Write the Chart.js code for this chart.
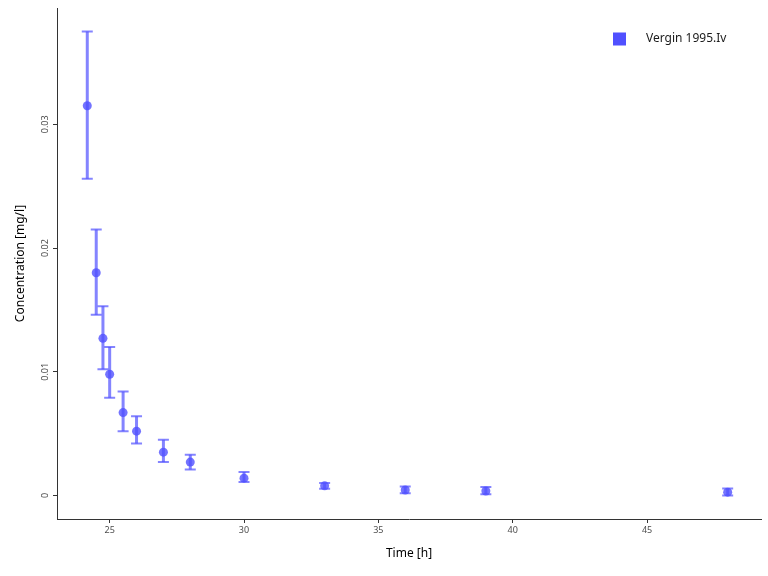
<!DOCTYPE html>
<html>
<head>
<meta charset="utf-8">
<title>Vergin 1995.Iv</title>
<script src="https://cdn.jsdelivr.net/npm/chart.js@4.4.1/dist/chart.umd.min.js"></script>
<style>
  html, body { margin: 0; padding: 0; background: #fff; }
  #wrap { width: 768px; height: 576px; }
</style>
</head>
<body>
<div id="wrap"><canvas id="chart" width="768" height="576"></canvas></div>
<script>
// values
const seriesName = "Vergin 1995.Iv";
const timeH = [24.1667, 24.5, 24.75, 25, 25.5, 26, 27, 28, 30, 33, 36, 39, 48];
const concMean = [0.0315, 0.0180, 0.0127, 0.0098, 0.0067, 0.0052, 0.0035, 0.0027, 0.0014, 0.00078, 0.00044, 0.00036, 0.00027];
const concLow = [0.0256, 0.0146, 0.0102, 0.0079, 0.0052, 0.0042, 0.0027, 0.0021, 0.0011, 0.00054, 0.00019, 0.00011, 0.0];
const concHigh = [0.0375, 0.0215, 0.0153, 0.0120, 0.0084, 0.0064, 0.0045, 0.0033, 0.0019, 0.0010, 0.00073, 0.00068, 0.00056];
const xTicks = [25, 30, 35, 40, 45];
const yTicks = [0, 0.01, 0.02, 0.03];

const FONT = "'Noto Sans', 'Open Sans', sans-serif";
const pointColor = "rgba(80, 80, 255, 0.8)";
const barColor = "rgba(80, 80, 255, 0.7)";

// error bars, drawn under the points
const errorBars = {
  id: "errorBars",
  beforeDatasetsDraw(chart) {
    const { ctx, scales: { x, y } } = chart;
    ctx.save();
    ctx.strokeStyle = barColor;
    timeH.forEach((t, i) => {
      const px = x.getPixelForValue(t);
      const top = y.getPixelForValue(concHigh[i]);
      const bot = y.getPixelForValue(concLow[i]);
      ctx.lineWidth = 3;
      ctx.beginPath();
      ctx.moveTo(px, top);
      ctx.lineTo(px, bot);
      ctx.stroke();
      ctx.lineWidth = 2;
      ctx.beginPath();
      ctx.moveTo(px - 5.5, top);
      ctx.lineTo(px + 5.5, top);
      ctx.moveTo(px - 5.5, bot);
      ctx.lineTo(px + 5.5, bot);
      ctx.stroke();
    });
    ctx.restore();
  }
};

// vertical y tick labels + legend inside the panel
const extras = {
  id: "extras",
  afterDraw(chart) {
    const { ctx, chartArea, scales: { y } } = chart;
    ctx.save();
    ctx.fillStyle = "#4d4d4d";
    ctx.font = "9px " + FONT;
    ctx.textAlign = "center";
    ctx.textBaseline = "middle";
    yTicks.forEach(v => {
      const py = y.getPixelForValue(v);
      ctx.save();
      ctx.translate(chartArea.left - 12, py);
      ctx.rotate(-Math.PI / 2);
      ctx.fillText(String(v), 0, 0);
      ctx.restore();
    });

    const lx = chartArea.right - 148;
    const ly = chartArea.top + 31;
    ctx.fillStyle = "rgb(80, 80, 255)";
    ctx.fillRect(lx, ly - 6.5, 13, 13);
    ctx.fillStyle = "#1a1a1a";
    ctx.font = "12px " + FONT;
    ctx.textAlign = "left";
    ctx.fillText(seriesName, lx + 33, ly);
    ctx.restore();
  }
};

new Chart(document.getElementById("chart"), {
  type: "scatter",
  data: {
    datasets: [{
      label: seriesName,
      data: timeH.map((t, i) => ({ x: t, y: concMean[i] })),
      backgroundColor: pointColor,
      borderColor: pointColor,
      borderWidth: 0,
      pointRadius: 4.5,
      pointHoverRadius: 4.5
    }]
  },
  options: {
    responsive: false,
    devicePixelRatio: 1,
    animation: false,
    layout: { padding: { top: 8, right: 7, bottom: 11, left: 9 } },
    plugins: { legend: { display: false }, tooltip: { enabled: false } },
    scales: {
      x: {
        type: "linear",
        min: 23.04,
        max: 49.24,
        afterFit: s => { s.height = 46; },
        afterBuildTicks: s => { s.ticks = xTicks.map(v => ({ value: v })); },
        border: { display: true, color: "#333", width: 1 },
        grid: { display: true, drawOnChartArea: false, drawTicks: true, tickLength: 4, tickColor: "#333" },
        ticks: { color: "#4d4d4d", font: { family: FONT, size: 9 }, padding: 2, maxRotation: 0 },
        title: { display: true, text: "Time [h]", color: "#000", font: { family: FONT, size: 12 }, padding: { top: 4, bottom: 4 } }
      },
      y: {
        type: "linear",
        min: -0.0019,
        max: 0.0394,
        afterFit: s => { s.width = 48; },
        afterBuildTicks: s => { s.ticks = yTicks.map(v => ({ value: v })); },
        border: { display: true, color: "#333", width: 1 },
        grid: { display: true, drawOnChartArea: false, drawTicks: true, tickLength: 4, tickColor: "#333" },
        ticks: { display: false },
        title: { display: true, text: "Concentration [mg/l]", color: "#000", font: { family: FONT, size: 12 }, padding: { top: 4, bottom: 4 } }
      }
    }
  },
  plugins: [errorBars, extras]
});
</script>
</body>
</html>
